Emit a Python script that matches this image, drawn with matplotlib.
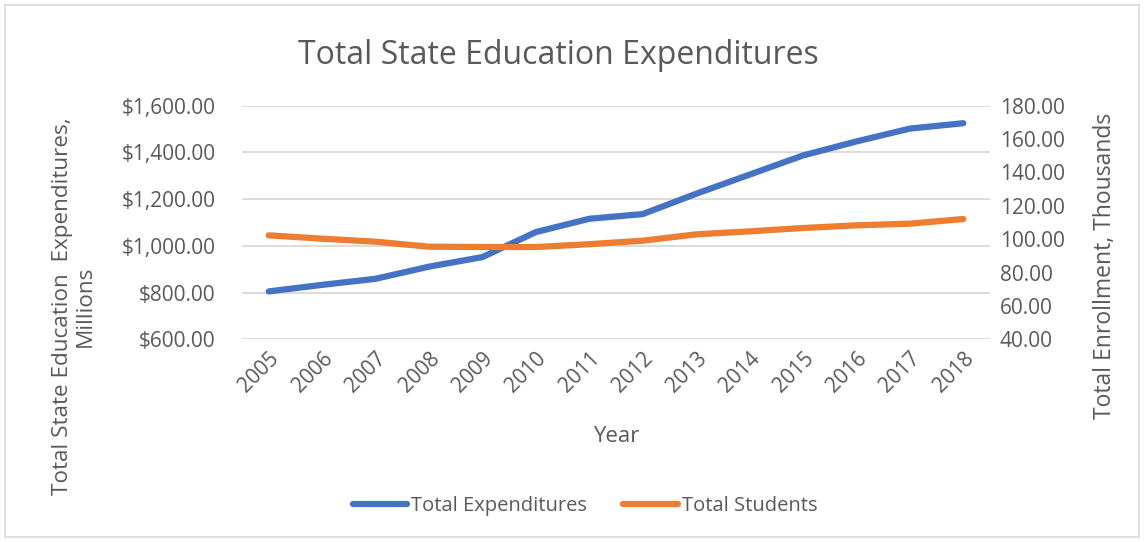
import matplotlib
matplotlib.use("Agg")
import matplotlib.pyplot as plt
from matplotlib.patches import Rectangle
from matplotlib.ticker import FuncFormatter, MultipleLocator

plt.rcParams['font.family'] = ['Open Sans', 'DejaVu Sans']

years = ['2005', '2006', '2007', '2008', '2009', '2010', '2011',
         '2012', '2013', '2014', '2015', '2016', '2017', '2018']
expenditures = [805, 833, 859, 911, 952, 1059, 1116,
                1136, 1223, 1305, 1387, 1447, 1502, 1525]
students = [102.3, 100.3, 98.5, 95.5, 95.3, 95.3, 97.0,
            99.1, 102.9, 104.7, 106.7, 108.3, 109.3, 112.1]

blue = '#4472C4'
orange = '#ED7D31'
text_gray = '#595959'
grid_gray = '#D9D9D9'

W, H = 1144, 542
fig = plt.figure(figsize=(W / 100, H / 100), dpi=100)
ax = fig.add_axes([242 / W, 1 - 339.3 / H, 748 / W, 233.6 / H])
ax2 = ax.twinx()

x = list(range(len(years)))
l1, = ax.plot(x, expenditures, color=blue, lw=4.5, solid_capstyle='round',
              solid_joinstyle='round', label='Total Expenditures')
l2, = ax2.plot(x, students, color=orange, lw=4.5, solid_capstyle='round',
               solid_joinstyle='round', label='Total Students')

ax.set_xlim(-0.5, len(years) - 0.5)
ax.set_ylim(600, 1600)
ax2.set_ylim(40, 180)
ax.yaxis.set_major_locator(MultipleLocator(200))
ax2.yaxis.set_major_locator(MultipleLocator(20))
ax.yaxis.set_major_formatter(FuncFormatter(lambda v, p: f"${v:,.2f}"))
ax2.yaxis.set_major_formatter(FuncFormatter(lambda v, p: f"{v:.2f}"))

ax.set_xticks(x)
ax.set_xticklabels(years, rotation=45, ha='right', va='top',
                   rotation_mode='anchor')
ax.grid(axis='y', color=grid_gray, lw=1.3)
ax.set_axisbelow(True)

for a in (ax, ax2):
    for s in a.spines.values():
        s.set_visible(False)
    a.tick_params(length=0, labelsize=15, colors=text_gray)
ax.tick_params(axis='y', pad=19)
ax2.tick_params(axis='y', pad=7)
ax.tick_params(axis='x', pad=6)

# axis titles placed where the reference has them
fig.text(616 / W, 1 - 436 / H, 'Year', ha='center', va='center',
         fontsize=16, color=text_gray)
fig.text(74 / W, 1 - 306 / H, 'Total State Education  Expenditures,\nMillions',
         ha='center', va='center', rotation=90, fontsize=16.2,
         color=text_gray, linespacing=1.1)
fig.text(1105 / W, 1 - 266 / H, 'Total Enrollment, Thousands',
         ha='center', va='center', rotation=90, fontsize=16.5,
         color=text_gray)

fig.text(558 / W, 1 - 55 / H, 'Total State Education Expenditures',
         ha='center', va='center', fontsize=23, color=text_gray)

fig.legend(handles=[l1, l2], loc='center', bbox_to_anchor=(585 / W, 1 - 506 / H),
           ncol=2, frameon=False, fontsize=14.5, labelcolor=text_gray,
           handlelength=2.7, handletextpad=0.2, columnspacing=1.8)

fig.patches.append(Rectangle((5 / W, 5 / H), 1134 / W, 532 / H,
                             transform=fig.transFigure, fill=False,
                             edgecolor=grid_gray, lw=1.2))

fig.savefig('out.png', dpi=100)
